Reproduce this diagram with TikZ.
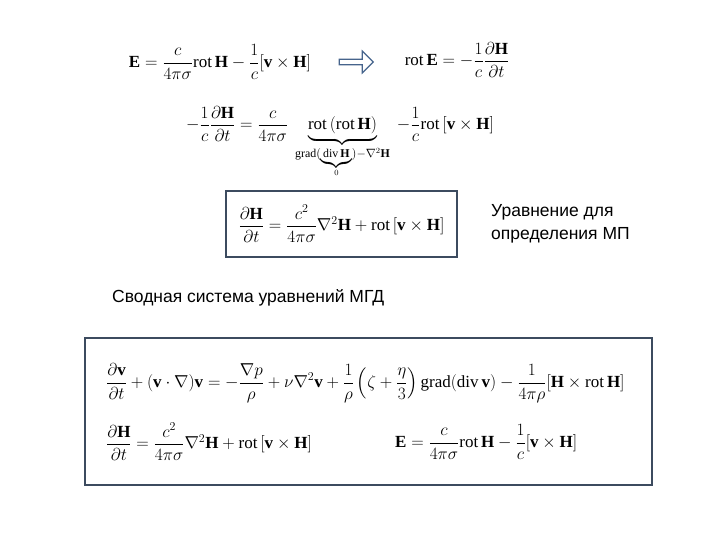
\documentclass[tikz,border=0pt]{standalone}
\usepackage{fontspec}
\usepackage{amsmath,mathtools}
\setmainfont{Liberation Serif}
\newfontfamily\rusf{Liberation Sans}
\usetikzlibrary{shapes.arrows}
\definecolor{frc}{RGB}{60,75,95}
\definecolor{arc}{RGB}{70,100,140}
\newcommand{\rt}{\mathrm{rot}\,}
\newcommand{\bH}{\mathbf{H}}
\newcommand{\bv}{\mathbf{v}}
\newcommand{\bE}{\mathbf{E}}
\begin{document}
\begin{tikzpicture}[x=1pt,y=-1pt,
 eq/.style={inner sep=0pt,font=\fontsize{17}{19}\selectfont},
 lbl/.style={inner sep=0pt,font=\rusf\fontsize{17.5}{23}\selectfont,align=left},
 frame/.style={draw=frc,line width=1.2pt}]
\useasboundingbox (0,0) rectangle (720,540);
\node[eq] (e1) at (220,62) {$\bE=\dfrac{c}{4\pi\sigma}\rt\bH-\dfrac{1}{c}[\bv\times\bH]$};
\node[single arrow,draw=arc,line width=1.2pt,minimum width=22pt,single arrow head extend=5pt,minimum height=34pt,inner sep=1pt] (ar) at (355,62) {};
\node[eq] (e2) at (457,60) {$\rt\bE=-\dfrac{1}{c}\dfrac{\partial\bH}{\partial t}$};
\node[eq,anchor=north] (e3) at (340,106) {$-\dfrac{1}{c}\dfrac{\partial\bH}{\partial t}=\dfrac{c}{4\pi\sigma}\quad\underbrace{\rt(\rt\bH)}_{\mathclap{\scriptstyle\mathrm{grad}(\underbrace{\scriptstyle\mathrm{div}\,\bH}_{\scriptscriptstyle 0})-\nabla^2\bH}}\quad-\dfrac{1}{c}\rt[\bv\times\bH]$};
\node[frame,minimum width=231pt,minimum height=66pt] (b1) at (341.5,224) {};
\node[eq] (e4) at (b1) {$\dfrac{\partial\bH}{\partial t}=\dfrac{c^2}{4\pi\sigma}\nabla^2\bH+\rt[\bv\times\bH]$};
\node[lbl,anchor=west] (t1) at (491,224) {Уравнение для\\определения МП};
\node[lbl,anchor=west] (t2) at (112,298) {Сводная система уравнений МГД};
\node[frame,minimum width=567pt,minimum height=147pt] (b2) at (368.5,411.5) {};
\node[eq,anchor=west] (e5) at (106,383) {$\dfrac{\partial\bv}{\partial t}+(\bv\cdot\nabla)\bv=-\dfrac{\nabla p}{\rho}+\nu\nabla^2\bv+\dfrac{1}{\rho}\left(\zeta+\dfrac{\eta}{3}\right)\mathrm{grad}(\mathrm{div}\,\bv)-\dfrac{1}{4\pi\rho}[\bH\times\rt\bH]$};
\node[eq,anchor=west] (e6) at (106,442) {$\dfrac{\partial\bH}{\partial t}=\dfrac{c^2}{4\pi\sigma}\nabla^2\bH+\rt[\bv\times\bH]$};
\node[eq,anchor=west] (e7) at (395,442) {$\bE=\dfrac{c}{4\pi\sigma}\rt\bH-\dfrac{1}{c}[\bv\times\bH]$};
\end{tikzpicture}
\end{document}
